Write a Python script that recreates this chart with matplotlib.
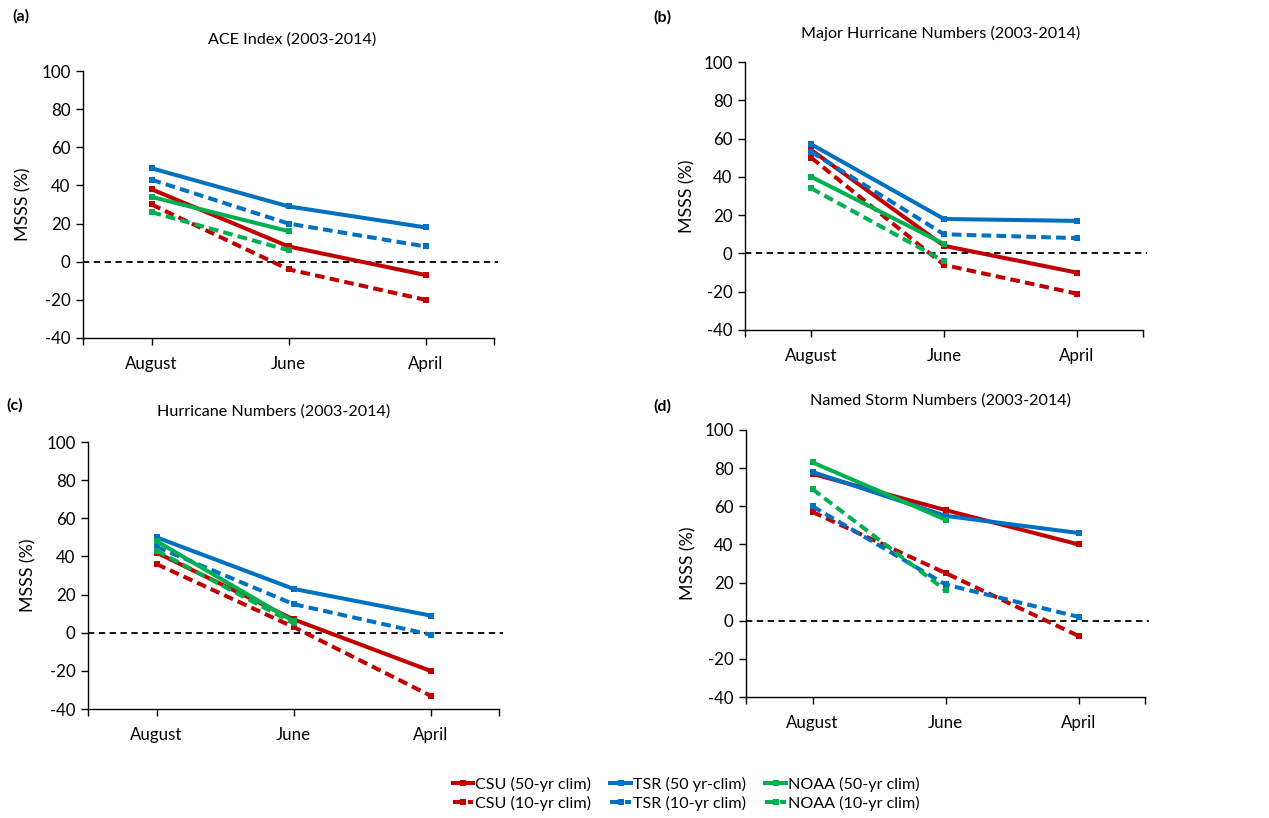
import matplotlib
matplotlib.use("Agg")
import matplotlib.pyplot as plt
import numpy as np
from matplotlib.lines import Line2D

plt.rcParams['font.family'] = ['Lato', 'DejaVu Sans']
plt.rcParams['axes.unicode_minus'] = False

months = ["August", "June", "April"]

# Panel (a) ACE Index
ace_csu50 = [38, 8, -7]
ace_csu10 = [30, -4, -20]
ace_tsr50 = [49, 29, 18]
ace_tsr10 = [43, 20, 8]
ace_noaa50 = [34, 16]
ace_noaa10 = [26, 6]

# Panel (b) Major Hurricane Numbers
mh_csu50 = [54, 4, -10]
mh_csu10 = [50, -6, -21]
mh_tsr50 = [57, 18, 17]
mh_tsr10 = [53, 10, 8]
mh_noaa50 = [40, 5]
mh_noaa10 = [34, -4]

# Panel (c) Hurricane Numbers
h_csu50 = [42, 7, -20]
h_csu10 = [36, 3, -33]
h_tsr50 = [50, 23, 9]
h_tsr10 = [45, 15, -1]
h_noaa50 = [48, 6]
h_noaa10 = [43, 5]

# Panel (d) Named Storm Numbers
ns_csu50 = [77, 58, 40]
ns_csu10 = [57, 25, -8]
ns_tsr50 = [78, 55, 46]
ns_tsr10 = [60, 19, 2]
ns_noaa50 = [83, 53]
ns_noaa10 = [69, 16]

titles = ["ACE Index (2003-2014)", "Major Hurricane Numbers (2003-2014)",
          "Hurricane Numbers (2003-2014)", "Named Storm Numbers (2003-2014)"]
panel_tags = ["(a)", "(b)", "(c)", "(d)"]
series_labels = ["CSU (50-yr clim)", "CSU (10-yr clim)", "TSR (50 yr-clim)",
                 "TSR (10-yr clim)", "NOAA (50-yr clim)", "NOAA (10-yr clim)"]

panels = [
    [ace_csu50, ace_csu10, ace_tsr50, ace_tsr10, ace_noaa50, ace_noaa10],
    [mh_csu50, mh_csu10, mh_tsr50, mh_tsr10, mh_noaa50, mh_noaa10],
    [h_csu50, h_csu10, h_tsr50, h_tsr10, h_noaa50, h_noaa10],
    [ns_csu50, ns_csu10, ns_tsr50, ns_tsr10, ns_noaa50, ns_noaa10],
]

RED = "#C00000"
BLUE = "#0070C0"
GREEN = "#00B050"
colors = [RED, RED, BLUE, BLUE, GREEN, GREEN]
dashed = [False, True, False, True, False, True]
DASH = (0, (2.4, 1.3))
LW = 2.9
MS = 5

W, H = 1269, 818
fig = plt.figure(figsize=(W / 100, H / 100), dpi=100)

# axes boxes in pixels: left, right, top, bottom
boxes = [(83, 494, 71, 338), (745, 1143, 62, 330),
         (88, 499, 442, 709), (746, 1145, 430, 697)]
title_pos = [(292, 40), (941, 33), (274, 412), (941, 401)]
tag_pos = [(12, 16), (653, 17), (6, 405), (653, 406)]

def px(x, y):
    return x / W, 1 - y / H

for i, (l, r, t, b) in enumerate(boxes):
    ax = fig.add_axes([l / W, 1 - b / H, (r - l) / W, (b - t) / H])
    xs = np.arange(len(months)) + 0.5
    for j, vals in enumerate(panels[i]):
        ax.plot(xs[:len(vals)], vals, color=colors[j], lw=LW,
                linestyle=DASH if dashed[j] else '-',
                marker='s', markersize=MS, markeredgewidth=0,
                solid_capstyle='butt', dash_capstyle='butt', zorder=3)
    ax.plot([0, 3.03], [0, 0], color='black', lw=1.3,
            linestyle=(0, (3.5, 2.5)), clip_on=False, zorder=2)
    ax.set_xlim(0, 3)
    ax.set_ylim(-40, 100)
    ax.set_yticks(np.arange(-40, 101, 20))
    ax.set_xticks(xs)
    ax.set_xticklabels(months)
    ax.set_xticks([0, 3], minor=True)
    ax.tick_params(axis='x', which='both', direction='out', length=5,
                   width=1, color='black', labelsize=12.2, pad=8)
    ax.tick_params(axis='y', direction='out', length=5, width=1,
                   color='black', labelsize=12.2, pad=4)
    for s in ['top', 'right']:
        ax.spines[s].set_visible(False)
    for s in ['left', 'bottom']:
        ax.spines[s].set_linewidth(1.0)
        ax.spines[s].set_color('black')
    ax.set_ylabel("MSSS (%)", fontsize=12.8)
    ax.yaxis.set_label_coords(-0.125, 0.5)
    tx, ty = px(*title_pos[i])
    fig.text(tx, ty, titles[i], ha='center', va='center', fontsize=11.6)
    gx, gy = px(*tag_pos[i])
    fig.text(gx, gy, panel_tags[i], ha='left', va='center', fontsize=11.5,
             fontweight='bold')

handles = []
for j in range(6):
    handles.append(Line2D([0], [0], color=colors[j], lw=LW,
                          linestyle=DASH if dashed[j] else '-',
                          marker='s', markersize=MS, markeredgewidth=0))
lx, ly = px(686, 794)
fig.legend(handles, series_labels, ncol=3, loc='center',
           bbox_to_anchor=(lx, ly), frameon=False, fontsize=11.6,
           handlelength=1.3, handletextpad=0.1, columnspacing=1.2,
           labelspacing=0.25, borderaxespad=0)

fig.savefig("out.png", dpi=100)
